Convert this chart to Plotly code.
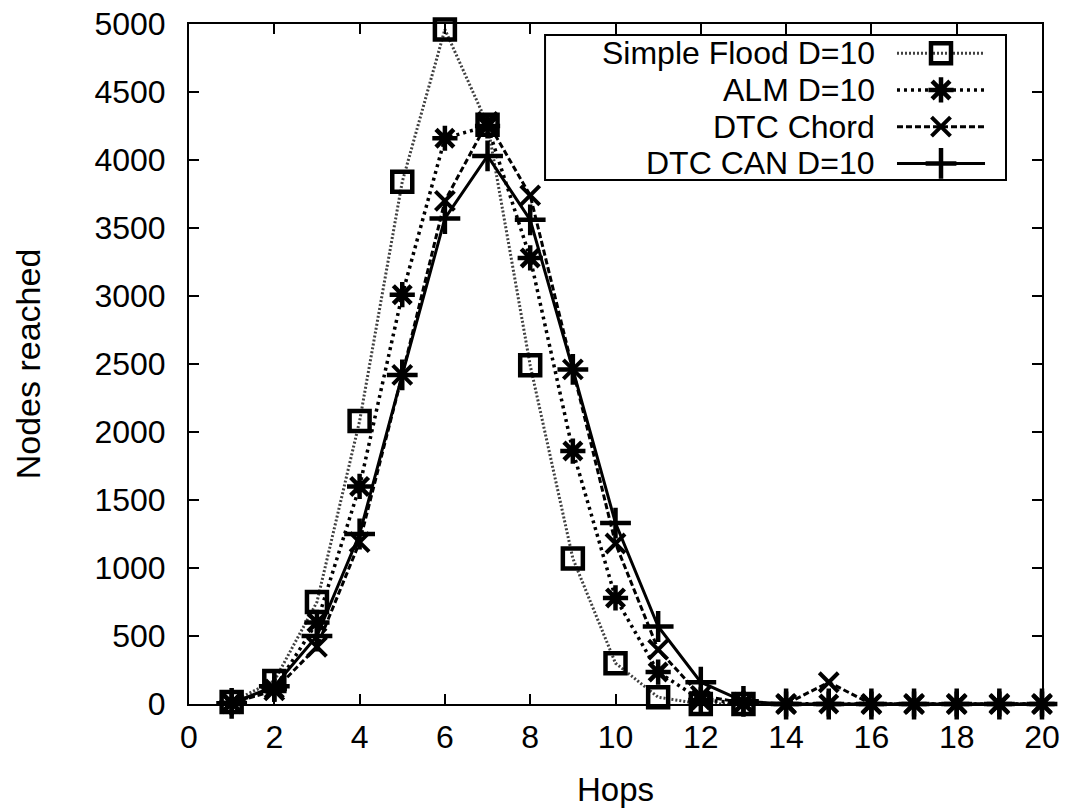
import plotly.graph_objects as go

hops_flood = [1, 2, 3, 4, 5, 6, 7, 8, 9, 10, 11, 12, 13]
simple_flood = [15, 170, 750, 2080, 3840, 4960, 4260, 2490, 1070, 300, 50, 0, 0]

hops = list(range(1, 21))
alm = [10, 110, 600, 1600, 3010, 4160, 4250, 3280, 1860, 780, 235, 30, 5, 0, 0, 0, 0, 0, 0, 0]
dtc_chord = [5, 100, 420, 1190, 2420, 3700, 4280, 3740, 2460, 1180, 400, 60, 10, 0, 160, 0, 0, 0, 0, 0]
dtc_can = [5, 130, 500, 1250, 2420, 3570, 4030, 3560, 2460, 1330, 570, 160, 20, 0, 0, 0, 0, 0, 0, 0]

names = ["Simple Flood D=10", "ALM D=10", "DTC Chord", "DTC CAN D=10"]
x_ticks = list(range(0, 21, 2))
y_ticks = list(range(0, 5001, 500))

FONT = "Liberation Sans, Arial, Helvetica, sans-serif"

styles = [
    dict(line=dict(color="#404040", width=3, dash="2px,2px"),
         marker=dict(symbol="square-open", size=20, color="black", line=dict(width=4.5, color="black"))),
    dict(line=dict(color="black", width=3.5, dash="3px,4px"),
         marker=dict(symbol="asterisk-open", size=21, color="black", line=dict(width=4.5, color="black"))),
    dict(line=dict(color="black", width=3, dash="6px,3px"),
         marker=dict(symbol="x-thin-open", size=19, color="black", line=dict(width=4, color="black"))),
    dict(line=dict(color="black", width=3),
         marker=dict(symbol="cross-thin-open", size=22, color="black", line=dict(width=4.5, color="black"))),
]

series = [(hops_flood, simple_flood), (hops, alm), (hops, dtc_chord), (hops, dtc_can)]

fig = go.Figure()
for (xs, ys), nm, st in zip(series, names, styles):
    fig.add_trace(go.Scatter(x=xs, y=ys, mode="lines+markers", name=nm,
                             line=st["line"], marker=st["marker"],
                             cliponaxis=False, showlegend=False))

# custom legend (text left, sample right), placed in paper space via overlay axes
leg_rows = [0.957, 0.903, 0.849, 0.795]
leg_text_x = 0.8066
leg_line = (0.830, 0.9332)
leg_mark = 0.8816
for nm, st, ry in zip(names, styles, leg_rows):
    fig.add_trace(go.Scatter(x=list(leg_line), y=[ry, ry], mode="lines", line=st["line"],
                             xaxis="x2", yaxis="y2", showlegend=False, hoverinfo="skip"))
    fig.add_trace(go.Scatter(x=[leg_mark], y=[ry], mode="markers", marker=st["marker"],
                             xaxis="x2", yaxis="y2", showlegend=False, hoverinfo="skip"))
    fig.add_annotation(x=leg_text_x, y=ry, xref="paper", yref="paper", text=nm,
                       showarrow=False, xanchor="right", yanchor="middle",
                       font=dict(family=FONT, size=32, color="black"))

fig.add_shape(type="rect", xref="paper", yref="paper", x0=0.4174, x1=0.9578, y0=0.7706, y1=0.9838,
              line=dict(color="black", width=2), layer="below")

axis_common = dict(showline=True, linecolor="black", linewidth=2, mirror="ticks",
                   ticks="inside", ticklen=10, tickwidth=2, tickcolor="black",
                   showgrid=False, zeroline=False, automargin=False,
                   tickfont=dict(family=FONT, size=32, color="black"))

fig.update_layout(
    width=1068, height=811,
    margin=dict(l=189, r=26, t=24, b=107),
    paper_bgcolor="white", plot_bgcolor="white",
    font=dict(family=FONT, size=32, color="black"),
    xaxis=dict(range=[0, 20], tickvals=x_ticks, ticktext=[str(v) for v in x_ticks],
               ticklabelstandoff=4,
               title=dict(text="Hops", font=dict(family=FONT, size=33), standoff=23),
               **axis_common),
    yaxis=dict(range=[0, 5000], tickvals=y_ticks, ticktext=[str(v) for v in y_ticks],
               ticklabelstandoff=15,
               title=dict(text="Nodes reached", font=dict(family=FONT, size=34), standoff=44),
               **axis_common),
    xaxis2=dict(overlaying="x", range=[0, 1], visible=False, fixedrange=True),
    yaxis2=dict(overlaying="y", range=[0, 1], visible=False, fixedrange=True),
)

fig.write_html("out.html")
